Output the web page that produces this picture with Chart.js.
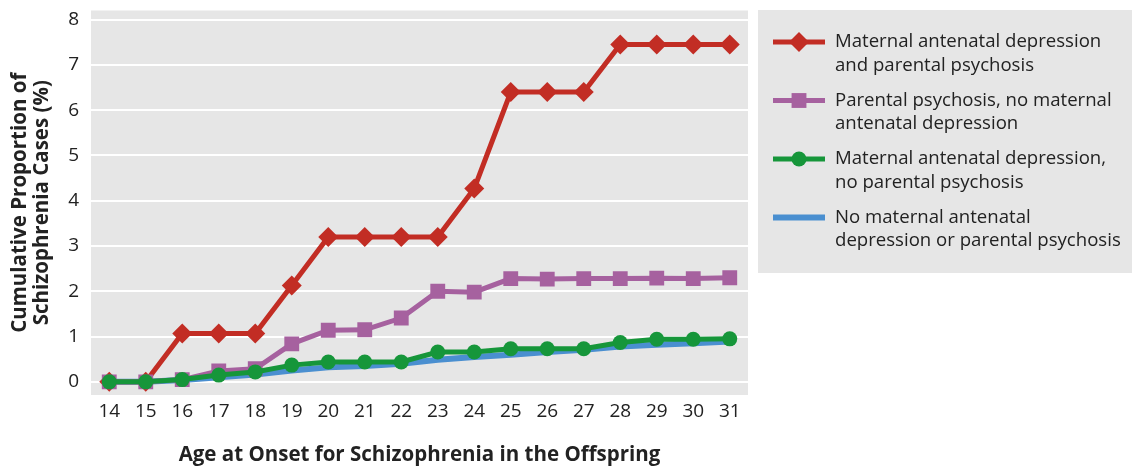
<!DOCTYPE html>
<html>
<head>
<meta charset="utf-8">
<script src="https://cdn.jsdelivr.net/npm/chart.js@4.4.1/dist/chart.umd.min.js"></script>
<style>
  html, body { margin: 0; padding: 0; background: #fff; }
  #wrap { position: relative; width: 1132px; height: 467px; }
</style>
</head>
<body>
<div id="wrap"><canvas id="onsetChart"></canvas></div>
<script>
// ages (x axis)
const ages = ["14","15","16","17","18","19","20","21","22","23","24","25","26","27","28","29","30","31"];

// cumulative proportion (%) per group
const bothValues    = [0, 0, 1.07, 1.07, 1.07, 2.13, 3.2, 3.2, 3.2, 3.2, 4.27, 6.4, 6.4, 6.4, 7.45, 7.45, 7.45, 7.45];
const psychValues   = [0, 0, 0.05, 0.24, 0.29, 0.84, 1.14, 1.15, 1.41, 2.0, 1.98, 2.28, 2.27, 2.28, 2.28, 2.29, 2.28, 2.3];
const deprValues    = [0, 0, 0.05, 0.15, 0.22, 0.37, 0.44, 0.44, 0.44, 0.66, 0.66, 0.73, 0.73, 0.73, 0.87, 0.94, 0.94, 0.95];
const neitherValues = [0, 0, 0.04, 0.1, 0.16, 0.25, 0.32, 0.35, 0.4, 0.49, 0.55, 0.6, 0.66, 0.71, 0.78, 0.82, 0.85, 0.89];

const yTicks = [0, 1, 2, 3, 4, 5, 6, 7, 8];

const FONT = "'Open Sans', 'Noto Sans', sans-serif";
const GREY = "#e6e6e6";

// grey panel behind the plot
const panelBg = {
  id: "panelBg",
  beforeDraw(chart) {
    const { ctx, chartArea: a } = chart;
    ctx.save();
    ctx.fillStyle = GREY;
    ctx.fillRect(a.left, a.top, a.right - a.left, a.bottom - a.top);
    ctx.restore();
  }
};

// legend box on the right, drawn by hand
const sideLegend = {
  id: "sideLegend",
  afterDraw(chart) {
    const ctx = chart.ctx;
    const x0 = 758, y0 = 10, w = 374, h = 263;
    ctx.save();
    ctx.fillStyle = GREY;
    ctx.fillRect(x0, y0, w, h);
    ctx.font = "18.6px " + FONT;
    ctx.textBaseline = "middle";
    const items = chart.data.datasets.slice().sort((a, b) => a.legendIndex - b.legendIndex);
    items.forEach((ds, i) => {
      const y = 42 + i * 58.5;
      ctx.strokeStyle = ds.borderColor;
      ctx.lineWidth = ds.borderWidth;
      ctx.beginPath();
      ctx.moveTo(773, y);
      ctx.lineTo(825, y);
      ctx.stroke();
      if (ds.pointRadius > 0) {
        ctx.fillStyle = ds.backgroundColor;
        ctx.beginPath();
        const r = ds.pointRadius;
        if (ds.pointStyle === "rectRot") {
          ctx.moveTo(799, y - r); ctx.lineTo(799 + r, y); ctx.lineTo(799, y + r); ctx.lineTo(799 - r, y);
          ctx.closePath();
        } else if (ds.pointStyle === "rect") {
          const s = r * Math.SQRT1_2;
          ctx.rect(799 - s, y - s, 2 * s, 2 * s);
        } else {
          ctx.arc(799, y, r, 0, Math.PI * 2);
        }
        ctx.fill();
      }
      ctx.fillStyle = "#222";
      ds.legendLines.forEach((t, k) => ctx.fillText(t, 835, y + k * 23.5));
    });
    ctx.restore();
  }
};

new Chart(document.getElementById("onsetChart"), {
  type: "line",
  data: {
    labels: ages,
    datasets: [
      {
        label: "Maternal antenatal depression and parental psychosis",
        legendLines: ["Maternal antenatal depression", "and parental psychosis"],
        legendIndex: 0,
        data: bothValues,
        borderColor: "#c22d24",
        backgroundColor: "#c22d24",
        borderWidth: 5,
        pointStyle: "rectRot",
        pointRadius: 10,
        pointBorderWidth: 0,
        order: 2
      },
      {
        label: "Parental psychosis, no maternal antenatal depression",
        legendLines: ["Parental psychosis, no maternal", "antenatal depression"],
        legendIndex: 1,
        data: psychValues,
        borderColor: "#a6619f",
        backgroundColor: "#a6619f",
        borderWidth: 5,
        pointStyle: "rect",
        pointRadius: 10.5,
        pointBorderWidth: 0,
        order: 1
      },
      {
        label: "Maternal antenatal depression, no parental psychosis",
        legendLines: ["Maternal antenatal depression,", "no parental psychosis"],
        legendIndex: 2,
        data: deprValues,
        borderColor: "#16963a",
        backgroundColor: "#16963a",
        borderWidth: 5,
        pointStyle: "circle",
        pointRadius: 7.5,
        pointBorderWidth: 0,
        order: 0
      },
      {
        label: "No maternal antenatal depression or parental psychosis",
        legendLines: ["No maternal antenatal", "depression or parental psychosis"],
        legendIndex: 3,
        data: neitherValues,
        borderColor: "#4a8fd0",
        backgroundColor: "#4a8fd0",
        borderWidth: 6,
        pointRadius: 0,
        order: 3
      }
    ]
  },
  options: {
    responsive: true,
    maintainAspectRatio: false,
    animation: false,
    layout: { padding: { left: 0, top: 10, right: 384, bottom: 0 } },
    plugins: {
      legend: { display: false },
      tooltip: { enabled: false }
    },
    scales: {
      x: {
        offset: true,
        grid: { display: false, drawTicks: false },
        border: { display: false },
        ticks: { color: "#222", font: { family: FONT, size: 19 }, padding: 5, maxRotation: 0 },
        title: {
          display: true,
          text: "Age at Onset for Schizophrenia in the Offspring",
          color: "#222",
          font: { family: FONT, size: 20.5, weight: "bold", lineHeight: 1.08 },
          padding: { top: 0, bottom: 1 }
        },
        afterFit(scale) {
          scale.height = 72;
          scale.paddingLeft = 0;
          scale.paddingRight = 0;
        }
      },
      y: {
        min: -0.29,
        max: 8.2,
        afterBuildTicks(scale) { scale.ticks = yTicks.map(v => ({ value: v })); },
        grid: { color: "#ffffff", lineWidth: 2, drawTicks: false },
        border: { display: false },
        ticks: { color: "#222", font: { family: FONT, size: 19 }, padding: 12 },
        title: {
          display: true,
          text: ["Cumulative Proportion of", "Schizophrenia Cases (%)"],
          color: "#222",
          font: { family: FONT, size: 20.5, weight: "bold", lineHeight: 1.08 },
          padding: { top: 9, bottom: 0 }
        },
        afterFit(scale) {
          scale.width = 91;
          scale.paddingTop = 0;
          scale.paddingBottom = 0;
        }
      }
    }
  },
  plugins: [panelBg, sideLegend]
});
</script>
</body>
</html>
